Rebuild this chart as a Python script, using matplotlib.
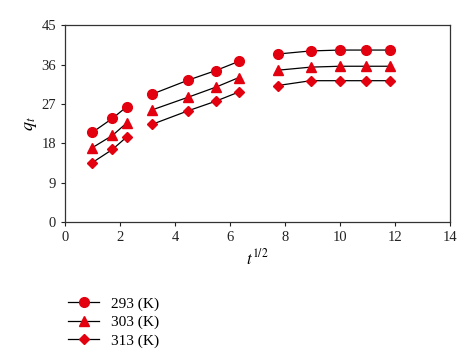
import numpy as np
import matplotlib.pyplot as plt

plt.rcParams['font.family'] = ['Liberation Serif', 'DejaVu Serif']
plt.rcParams['mathtext.fontset'] = 'stix'

# t^(1/2) values
t_half = [1.0, 1.73, 2.24, 3.16, 4.47, 5.48, 6.32, 7.75, 8.94, 10.0, 10.95, 11.83]
q_293 = [20.5, 23.7, 26.3, 29.2, 32.4, 34.6, 36.7, 38.4, 39.1, 39.3, 39.3, 39.3]
q_303 = [17.0, 19.8, 22.6, 25.6, 28.5, 30.8, 33.0, 34.7, 35.4, 35.6, 35.6, 35.6]
q_313 = [13.6, 16.6, 19.4, 22.3, 25.4, 27.6, 29.7, 31.2, 32.3, 32.3, 32.3, 32.3]
labels = ['293 (K)', '303 (K)', '313 (K)']
markers = ['o', '^', 'D']
sizes = [7, 7.5, 5.5]
groups = [(0, 3), (3, 7), (7, 12)]

red = '#e3000f'

fig = plt.figure(figsize=(4.74, 3.64), dpi=100)
ax = fig.add_axes([0.137, 0.39, 0.812, 0.541])

x = np.array(t_half)
for q, lab, m, s in zip([q_293, q_303, q_313], labels, markers, sizes):
    q = np.array(q)
    for k, (i0, i1) in enumerate(groups):
        ax.plot(x[i0:i1], q[i0:i1], color='black', lw=0.9, marker=m, ms=s,
                mfc=red, mec=red, label=lab if k == 0 else None)

ax.set_xlim(0, 14)
ax.set_ylim(0, 45)
ax.set_xticks(range(0, 15, 2))
ax.set_yticks(range(0, 46, 9))
ax.tick_params(direction='out', length=3, width=0.8, labelsize=10.5, colors='#222222')
for sp in ax.spines.values():
    sp.set_linewidth(0.9)
    sp.set_color('#333333')
ax.set_xlabel(r'$t^{1/2}$', fontsize=12, labelpad=3)
ax.set_ylabel(r'$q_t$', fontsize=13, labelpad=2)

fig.legend(loc='upper left', bbox_to_anchor=(0.115, 0.222), frameon=False,
           fontsize=11, handlelength=2.0, handletextpad=0.8, labelspacing=0.3)

fig.savefig('out.png', dpi=100)
